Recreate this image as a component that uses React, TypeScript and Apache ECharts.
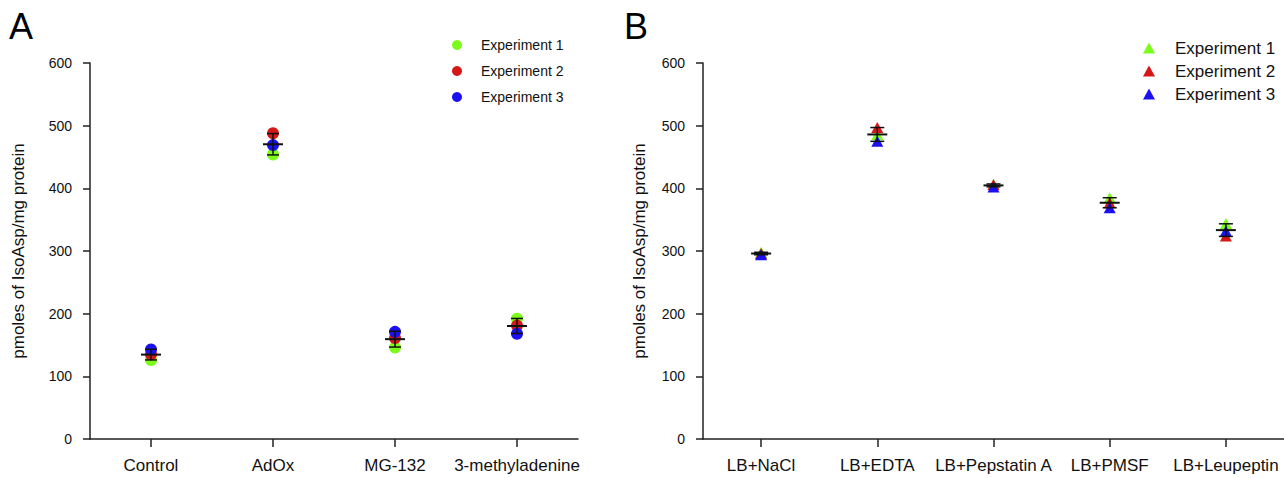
import React, { useEffect, useRef } from "react";
import * as echarts from "echarts";

const categoriesA = ["Control", "AdOx", "MG-132", "3-methyladenine"];
const exp1A = [126, 454, 146, 192];
const exp2A = [135, 488, 161, 181];
const exp3A = [143, 469, 171, 168];

const categoriesB = ["LB+NaCl", "LB+EDTA", "LB+Pepstatin A", "LB+PMSF", "LB+Leupeptin"];
const exp1B = [298, 486, 406, 385, 344];
const exp2B = [296, 497, 406, 377, 324];
const exp3B = [294, 475, 402, 369, 332];

const yTicks = [0, 100, 200, 300, 400, 500, 600];
const seriesNames = ["Experiment 1", "Experiment 2", "Experiment 3"];
const colors = ["#7CFC1A", "#D41818", "#1A10F0"];

const FONT = "Liberation Sans, Arial, sans-serif";

function stats(groups: number[][]) {
  const n = groups[0].length;
  const out: number[][] = [];
  for (let i = 0; i < n; i++) {
    const vals = groups.map((g) => g[i]);
    const mean = vals.reduce((a, b) => a + b, 0) / vals.length;
    const sd = Math.sqrt(
      vals.reduce((a, b) => a + (b - mean) * (b - mean), 0) / (vals.length - 1)
    );
    out.push([i, mean, mean - sd, mean + sd]);
  }
  return out;
}

function errorRender(meanHalf: number, capHalf: number) {
  return (params: any, api: any) => {
    const idx = api.value(0);
    const m = api.coord([idx, api.value(1)]);
    const lo = api.coord([idx, api.value(2)]);
    const hi = api.coord([idx, api.value(3)]);
    const st = { stroke: "#111", lineWidth: 1.5 };
    return {
      type: "group",
      children: [
        { type: "line", shape: { x1: m[0], y1: lo[1], x2: m[0], y2: hi[1] }, style: st },
        { type: "line", shape: { x1: m[0] - capHalf, y1: lo[1], x2: m[0] + capHalf, y2: lo[1] }, style: st },
        { type: "line", shape: { x1: m[0] - capHalf, y1: hi[1], x2: m[0] + capHalf, y2: hi[1] }, style: st },
        { type: "line", shape: { x1: m[0] - meanHalf, y1: m[1], x2: m[0] + meanHalf, y2: m[1] }, style: { stroke: "#111", lineWidth: 2 } },
      ],
    };
  };
}

export default function App() {
  const ref = useRef<HTMLDivElement>(null);
  useEffect(() => {
    if (!ref.current) return;
    const chart = echarts.init(ref.current, undefined, { renderer: "svg" });
    const axisLine = { show: true, lineStyle: { color: "#222", width: 1.5 } };
    const yAxisBase = (grid: number, gap: number) => ({
      type: "value",
      gridIndex: grid,
      min: yTicks[0],
      max: yTicks[yTicks.length - 1],
      interval: 100,
      name: "pmoles of IsoAsp/mg protein",
      nameLocation: "middle",
      nameGap: gap,
      nameTextStyle: { fontFamily: FONT, fontSize: 17, color: "#111" },
      axisLine,
      axisTick: { show: true, length: 7, lineStyle: { color: "#222", width: 1.5 } },
      axisLabel: { fontFamily: FONT, fontSize: 14, color: "#111", margin: 18 },
      splitLine: { show: false },
    });
    const xAxisBase = (grid: number, data: string[]) => ({
      type: "category",
      gridIndex: grid,
      data,
      boundaryGap: true,
      axisLine,
      axisTick: { show: true, alignWithLabel: true, length: 8, lineStyle: { color: "#222", width: 1.5 } },
      axisLabel: { fontFamily: FONT, fontSize: 17, color: "#111", margin: 18, interval: 0 },
      splitLine: { show: false },
    });
    const groupsA = [exp1A, exp2A, exp3A];
    const groupsB = [exp1B, exp2B, exp3B];
    const scatterA = groupsA.map((g, i) => ({
      type: "scatter",
      name: seriesNames[i],
      xAxisIndex: 0,
      yAxisIndex: 0,
      symbol: "circle",
      symbolSize: 12,
      itemStyle: { color: colors[i], opacity: 1 },
      data: g.map((v, j) => [j, v]),
      z: 2,
    }));
    const scatterB = groupsB.map((g, i) => ({
      type: "scatter",
      name: seriesNames[i],
      xAxisIndex: 1,
      yAxisIndex: 1,
      symbol: "triangle",
      symbolSize: [12, 11],
      itemStyle: { color: colors[i], opacity: 1 },
      data: g.map((v, j) => [j, v]),
      z: 2,
    }));
    chart.setOption({
      animation: false,
      backgroundColor: "#fff",
      textStyle: { fontFamily: FONT },
      grid: [
        { left: 90, top: 63, width: 488, height: 376 },
        { left: 703, top: 63, width: 585, height: 376 },
      ],
      xAxis: [xAxisBase(0, categoriesA), xAxisBase(1, categoriesB)],
      yAxis: [yAxisBase(0, 63), yAxisBase(1, 55)],
      legend: [
        {
          orient: "vertical",
          left: 452,
          top: 37,
          padding: 0,
          itemWidth: 10,
          itemHeight: 10,
          itemGap: 10,
          selectedMode: false,
          textStyle: { fontFamily: FONT, fontSize: 14, color: "#111", lineHeight: 16, padding: [0, 0, 0, 14] },
          data: seriesNames.map((n) => ({ name: n, icon: "circle" })),
        },
        {
          orient: "vertical",
          left: 1143,
          top: 39,
          padding: 0,
          itemWidth: 12,
          itemHeight: 11,
          itemGap: 5,
          selectedMode: false,
          textStyle: { fontFamily: FONT, fontSize: 17, color: "#111", lineHeight: 18, padding: [0, 0, 0, 15] },
          data: seriesNames.map((n) => ({ name: n, icon: "triangle" })),
        },
      ],
      graphic: [
        { type: "text", left: 9, top: 8, style: { text: "A", fontFamily: FONT, fontSize: 36, fill: "#000" } },
        { type: "text", left: 624, top: 8, style: { text: "B", fontFamily: FONT, fontSize: 36, fill: "#000" } },
      ],
      series: [
        ...scatterA,
        ...scatterB,
        {
          type: "custom",
          name: "errA",
          xAxisIndex: 0,
          yAxisIndex: 0,
          renderItem: errorRender(10, 6),
          data: stats(groupsA),
          z: 5,
          silent: true,
        },
        {
          type: "custom",
          name: "errB",
          xAxisIndex: 1,
          yAxisIndex: 1,
          renderItem: errorRender(10, 7),
          data: stats(groupsB),
          z: 5,
          silent: true,
        },
      ],
    });
    return () => chart.dispose();
  }, []);
  return (
    <div
      ref={ref}
      style={{ position: "absolute", left: 0, top: 0, width: 1284, height: 478 }}
    />
  );
}
